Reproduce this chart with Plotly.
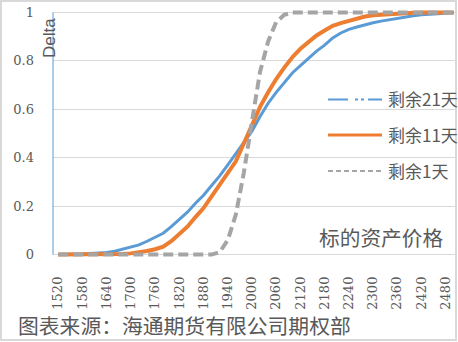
import plotly.graph_objects as go

# Underlying price grid (step 20)
prices = list(range(1520, 2501, 20))

# Call delta by remaining days to expiry
delta_21d = [0.000, 0.000, 0.001, 0.002, 0.004, 0.006, 0.009, 0.014, 0.022, 0.031,
             0.040, 0.055, 0.070, 0.088, 0.115, 0.145, 0.175, 0.212, 0.245, 0.285,
             0.325, 0.370, 0.415, 0.460, 0.510, 0.570, 0.625, 0.670, 0.710, 0.750,
             0.780, 0.810, 0.840, 0.865, 0.895, 0.915, 0.930, 0.940, 0.950, 0.957,
             0.964, 0.970, 0.976, 0.981, 0.986, 0.990, 0.993, 0.996, 0.998, 0.999]
delta_11d = [0.000, 0.000, 0.000, 0.000, 0.000, 0.000, 0.000, 0.001, 0.002, 0.005,
             0.009, 0.015, 0.022, 0.033, 0.055, 0.083, 0.115, 0.155, 0.192, 0.240,
             0.288, 0.340, 0.385, 0.460, 0.540, 0.610, 0.670, 0.725, 0.772, 0.815,
             0.850, 0.880, 0.905, 0.925, 0.945, 0.956, 0.966, 0.976, 0.983, 0.988,
             0.991, 0.994, 0.996, 0.998, 0.999, 1.000, 1.000, 1.000, 1.000, 1.000]
delta_1d = [0.000, 0.000, 0.000, 0.000, 0.000, 0.000, 0.000, 0.000, 0.000, 0.000,
            0.000, 0.000, 0.000, 0.000, 0.000, 0.000, 0.000, 0.000, 0.000, 0.000,
            0.010, 0.060, 0.165, 0.340, 0.550, 0.755, 0.880, 0.960, 0.990, 1.000,
            1.000, 1.000, 1.000, 1.000, 1.000, 1.000, 1.000, 1.000, 1.000, 1.000,
            1.000, 1.000, 1.000, 1.000, 1.000, 1.000, 1.000, 1.000, 1.000, 1.000]

series_names = ["剩余21天", "剩余11天", "剩余1天"]
x_tick_vals = list(range(1520, 2481, 60))
y_tick_vals = [0, 0.2, 0.4, 0.6, 0.8, 1]
y_tick_text = ["0", "0.2", "0.4", "0.6", "0.8", "1"]

BLUE, ORANGE, GRAY = "#5B9BD5", "#ED7D31", "#A5A5A5"
TEXT = "#595959"
GRID = "#D9D9D9"
CJK = "Noto Sans CJK SC"
SERIF = "DejaVu Serif"

W, H = 458, 342
ML, MR, MT, MB = 53, 3, 10, 85
PW, PH = W - ML - MR, H - MT - MB


def px(x):
    return (x - ML) / PW


def py(y):
    return (H - MB - y) / PH


fig = go.Figure()
fig.add_trace(go.Scatter(x=prices, y=delta_21d, mode="lines", name=series_names[0],
                         line=dict(color=BLUE, width=3)))
fig.add_trace(go.Scatter(x=prices, y=delta_11d, mode="lines", name=series_names[1],
                         line=dict(color=ORANGE, width=4)))
fig.add_trace(go.Scatter(x=prices, y=delta_1d, mode="lines", name=series_names[2],
                         line=dict(color=GRAY, width=4, dash="10px,5px")))

shapes = [
    # outer frame
    dict(type="rect", xref="paper", yref="paper", x0=px(1), x1=px(456), y0=py(1), y1=py(340),
         line=dict(color=GRID, width=2), layer="below"),
    # vertical value axis line
    dict(type="line", xref="paper", yref="y", x0=0, x1=0, y0=0, y1=1,
         line=dict(color=BLUE, width=1)),
    # legend samples
    dict(type="line", xref="paper", yref="paper", x0=px(328), x1=px(382), y0=py(99.5), y1=py(99.5),
         line=dict(color=BLUE, width=2, dash="20px,7px,3px,3px,3px,4px")),
    dict(type="line", xref="paper", yref="paper", x0=px(328), x1=px(382), y0=py(135), y1=py(135),
         line=dict(color=ORANGE, width=3)),
    dict(type="line", xref="paper", yref="paper", x0=px(328), x1=px(382), y0=py(171), y1=py(171),
         line=dict(color=GRAY, width=2, dash="5px,3px")),
]

annotations = [
    dict(text="Delta", xref="paper", yref="paper", x=px(50), y=py(38), textangle=-90,
         showarrow=False, xanchor="center", yanchor="middle",
         font=dict(family="Liberation Sans", size=17, color=TEXT)),
    dict(text="标的资产价格", xref="paper", yref="paper", x=px(445), y=py(237),
         showarrow=False, xanchor="right", yanchor="middle",
         font=dict(family=CJK, size=20.7, color=TEXT)),
    dict(text="图表来源：海通期货有限公司期权部", xref="paper", yref="paper", x=px(16), y=py(325),
         showarrow=False, xanchor="left", yanchor="middle",
         font=dict(family=CJK, size=20.8, color=TEXT)),
]
for name, yy in zip(series_names, [99, 134, 170]):
    annotations.append(dict(text=name, xref="paper", yref="paper", x=px(386), y=py(yy),
                            showarrow=False, xanchor="left", yanchor="middle",
                            font=dict(family=CJK, size=17, color=TEXT)))

fig.update_layout(
    width=W, height=H,
    margin=dict(l=ML, r=MR, t=MT, b=MB, pad=0),
    paper_bgcolor="white", plot_bgcolor="white",
    showlegend=False,
    shapes=shapes,
    annotations=annotations,
    xaxis=dict(range=[1507, 2503], tickvals=x_tick_vals, tickangle=-90,
               showgrid=False, zeroline=False, showline=False, ticks="",
               ticklabelstandoff=16,
               tickfont=dict(family=SERIF, size=13, color=TEXT)),
    yaxis=dict(range=[-0.01, 1.01], tickvals=y_tick_vals, ticktext=y_tick_text,
               showgrid=True, gridcolor=GRID, gridwidth=1, zeroline=False,
               showline=False, ticks="", ticklabelstandoff=18,
               tickfont=dict(family=SERIF, size=13, color=TEXT)),
)

fig.write_html("out.html")
